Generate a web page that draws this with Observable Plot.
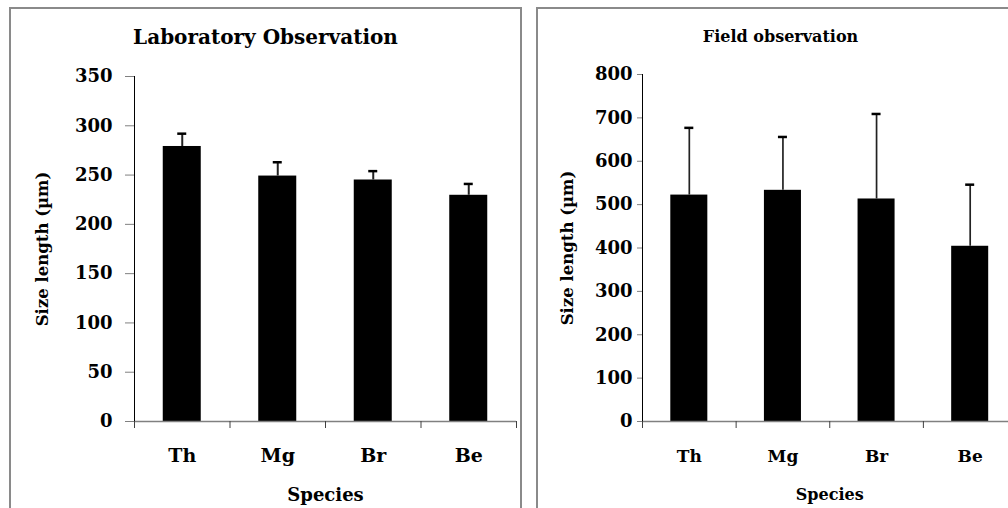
<!DOCTYPE html>
<html><head><meta charset="utf-8">
<script src="https://cdn.jsdelivr.net/npm/d3@7"></script>
<script src="https://cdn.jsdelivr.net/npm/@observablehq/plot@0.6"></script>
<style>
body{margin:0;width:1008px;height:508px;overflow:hidden;background:#fff;position:relative;font-family:"DejaVu Serif",serif;}
.panel{position:absolute;top:7px;height:520px;border:2px solid #8a8a8a;box-sizing:border-box;background:#fff;}
.title{position:absolute;left:0;right:0;text-align:center;font-weight:bold;line-height:1;color:#000;white-space:nowrap;}
.panel svg{position:absolute;left:0;top:0;}
</style></head><body>
<div id="lab" class="panel" style="left:9px;width:513px"></div>
<div id="field" class="panel" style="left:536px;width:489px"></div>
<script>
const species = ["Th", "Mg", "Br", "Be"];
const labTitle = "Laboratory Observation";
const fieldTitle = "Field observation";
const xLabel = "Species";
const yLabel = "Size length (µm)";
const labMean = [279, 249, 245, 229.5];
const labErr = [13, 14, 9, 11.5];
const fieldMean = [522, 533, 513, 404];
const fieldErr = [155, 123, 196, 142];
const labTicks = [0, 50, 100, 150, 200, 250, 300, 350];
const fieldTicks = [0, 100, 200, 300, 400, 500, 600, 700, 800];

function chart(o) {
  const data = species.map((s, i) => ({s, i, m: o.means[i], e: o.errs[i]}));
  return Plot.plot({
    width: o.width, height: 499,
    marginLeft: o.mLeft, marginRight: o.mRight, marginTop: o.mTop, marginBottom: 87,
    x: {type: "linear", domain: [0, 4]},
    y: {domain: [0, o.ticks[o.ticks.length - 1]]},
    style: {fontFamily: "DejaVu Serif", fontWeight: "bold", fontSize: o.tickFs + "px", color: "#000", background: "transparent", overflow: "visible"},
    marks: [
      Plot.rect(data, {x1: d => d.i, x2: d => d.i + 1, y1: 0, y2: "m", insetLeft: o.inset, insetRight: o.inset, fill: "#000"}),
      Plot.ruleX(data, {x: d => d.i + 0.5, y1: "m", y2: d => d.m + d.e, stroke: "#222", strokeWidth: o.errW}),
      Plot.ruleY(data, {x1: d => d.i + 0.5, x2: d => d.i + 0.5, y: d => d.m + d.e, insetLeft: -4.5, insetRight: -4.5, stroke: "#000", strokeWidth: 2.5}),
      Plot.ruleY([0], {stroke: "#808080", strokeWidth: 1.5}),
      Plot.ruleX([0], {stroke: "#000", strokeWidth: 1}),
      Plot.axisY({ticks: o.ticks, tickSize: o.tickSize, tickPadding: o.tickPad, fontSize: o.tickFs, stroke: "#808080", label: null}),
      Plot.axisX({ticks: [0, 1, 2, 3, 4], tickFormat: () => "", tickSize: 7, stroke: "#404040", label: null}),
      Plot.axisX({ticks: [0.5, 1.5, 2.5, 3.5], tickSize: 0, tickPadding: o.catPad, tickFormat: v => species[Math.floor(v)], fontSize: o.catFs, label: null}),
      Plot.text([xLabel], {frameAnchor: "bottom", lineAnchor: "top", dy: 67, fontSize: o.xlFs}),
      Plot.text([yLabel], {frameAnchor: "left", textAnchor: "middle", rotate: -90, dx: o.ylDx, fontSize: o.ylFs})
    ]
  });
}

function panel(id, title, titleFs, titleTop, o) {
  const el = document.getElementById(id);
  el.appendChild(chart(o));
  const t = document.createElement("div");
  t.className = "title";
  t.style.fontSize = titleFs + "px";
  t.style.top = titleTop + "px";
  t.textContent = title;
  el.appendChild(t);
}

panel("lab", labTitle, 20, 18, {
  means: labMean, errs: labErr, ticks: labTicks,
  width: 509, mLeft: 123, mRight: 4, mTop: 67, inset: 28.75,
  tickSize: 9, tickPad: 13, tickFs: 18, catFs: 19, catPad: 27, xlFs: 18, ylFs: 16.5, ylDx: -92, errW: 2
});
panel("field", fieldTitle, 16, 20, {
  means: fieldMean, errs: fieldErr, ticks: fieldTicks,
  width: 485, mLeft: 104, mRight: 6.5, mTop: 65, inset: 28.3,
  tickSize: 5, tickPad: 5, tickFs: 18, catFs: 17, catPad: 28, xlFs: 16, ylFs: 16.5, ylDx: -75, errW: 1.7
});
</script>
</body></html>
